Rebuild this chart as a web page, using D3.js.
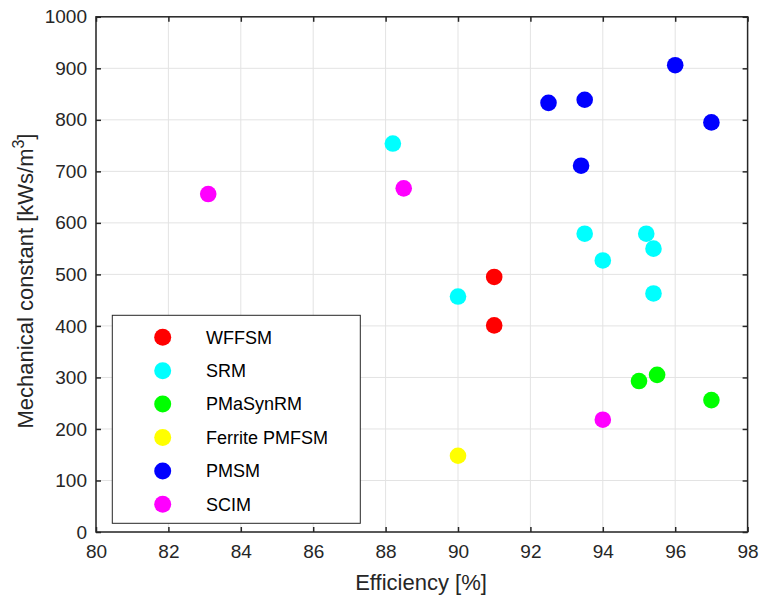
<!DOCTYPE html>
<html><head><meta charset="utf-8">
<script src="https://cdn.jsdelivr.net/npm/d3@7"></script>
<style>body{margin:0;background:#fff}svg{display:block;font-family:"Liberation Sans",Arial,sans-serif}</style>
</head><body><svg id="c" width="760" height="597"></svg>
<script>
const categories = ["WFFSM","SRM","PMaSynRM","Ferrite PMFSM","PMSM","SCIM"];
const colors = ["#ff0000","#00ffff","#00ff00","#ffff00","#0000ff","#ff00ff"];
const wffsmX = [91.0, 91.0], wffsmY = [495, 401];
const srmX = [88.2, 93.5, 95.2, 95.4, 94.0, 95.4, 90.0], srmY = [754, 579, 579, 550, 527, 463, 457];
const pmasynX = [95.0, 95.5, 97.0], pmasynY = [293, 305, 256];
const ferriteX = [90.0], ferriteY = [148];
const pmsmX = [92.5, 93.5, 96.0, 97.0, 93.4], pmsmY = [833, 839, 906, 795, 711];
const scimX = [83.1, 88.5, 94.0], scimY = [656, 667, 218];
const xTicks = [80,82,84,86,88,90,92,94,96,98];
const yTicks = [0,100,200,300,400,500,600,700,800,900,1000];

const seriesX = [wffsmX, srmX, pmasynX, ferriteX, pmsmX, scimX];
const seriesY = [wffsmY, srmY, pmasynY, ferriteY, pmsmY, scimY];

const L=96, R=747.6, T=16.8, B=532;
const FONT = "Liberation Sans, Arial, sans-serif";
const svg = d3.select("#c");
const x = d3.scaleLinear().domain([80,98]).range([L,R]);
const y = d3.scaleLinear().domain([0,1000]).range([B,T]);

// grid
const g = svg.append("g");
g.selectAll(".gx").data(xTicks).join("line").attr("x1",d=>x(d)).attr("x2",d=>x(d)).attr("y1",T).attr("y2",B).attr("stroke","#e3e3e3").attr("stroke-width",1);
g.selectAll(".gy").data(yTicks).join("line").attr("y1",d=>y(d)).attr("y2",d=>y(d)).attr("x1",L).attr("x2",R).attr("stroke","#e3e3e3").attr("stroke-width",1);

// points
seriesX.forEach((xs,i)=>{
  svg.append("g").selectAll("circle").data(xs.map((v,j)=>[v,seriesY[i][j]])).join("circle")
    .attr("cx",d=>x(d[0])).attr("cy",d=>y(d[1])).attr("r",8.3).attr("fill",colors[i]);
});

// axes
const axCol="#262626";
const fmt = d3.format("d");
const bx = svg.append("g").attr("transform",`translate(0,${B})`).call(d3.axisBottom(x).tickValues(xTicks).tickFormat(fmt).tickSizeInner(-5).tickSizeOuter(0).tickPadding(13));
const tx = svg.append("g").attr("transform",`translate(0,${T})`).call(d3.axisTop(x).tickValues(xTicks).tickSizeInner(-5).tickSizeOuter(0).tickFormat(""));
const ly = svg.append("g").attr("transform",`translate(${L},0)`).call(d3.axisLeft(y).tickValues(yTicks).tickFormat(fmt).tickSizeInner(-5).tickSizeOuter(0).tickPadding(9));
const ry = svg.append("g").attr("transform",`translate(${R},0)`).call(d3.axisRight(y).tickValues(yTicks).tickSizeInner(-5).tickSizeOuter(0).tickFormat(""));
[bx,tx,ly,ry].forEach(a=>{
  a.attr("font-size",19).attr("font-family",FONT);
  a.select(".domain").remove();
  a.selectAll("line").attr("stroke",axCol).attr("stroke-width",1.5);
  a.selectAll("text").attr("fill",axCol);
});
svg.append("rect").attr("x",L).attr("y",T).attr("width",R-L).attr("height",B-T).attr("fill","none").attr("stroke",axCol).attr("stroke-width",1.5);

// labels
svg.append("text").attr("x",421).attr("y",590).attr("text-anchor","middle").attr("font-size",22).attr("fill",axCol).text("Efficiency [%]");
const yl = svg.append("text").attr("transform",`translate(33,281) rotate(-90)`).attr("text-anchor","middle").attr("font-size",22).attr("fill",axCol);
yl.append("tspan").text("Mechanical constant [kWs/m");
yl.append("tspan").attr("dy",-9).attr("font-size",16).text("3");
yl.append("tspan").attr("dy",9).text("]");

// legend
const lg = svg.append("g");
lg.append("rect").attr("x",112.3).attr("y",315.3).attr("width",248).attr("height",208).attr("fill","#fff").attr("stroke",axCol).attr("stroke-width",1);
categories.forEach((c,i)=>{
  const yy = 337.3 + i*33.4;
  lg.append("circle").attr("cx",162.7).attr("cy",yy).attr("r",8.5).attr("fill",colors[i]);
  lg.append("text").attr("x",206).attr("y",yy).attr("dy","0.35em").attr("font-size",18).attr("fill","#000").text(c);
});
</script></body></html>
